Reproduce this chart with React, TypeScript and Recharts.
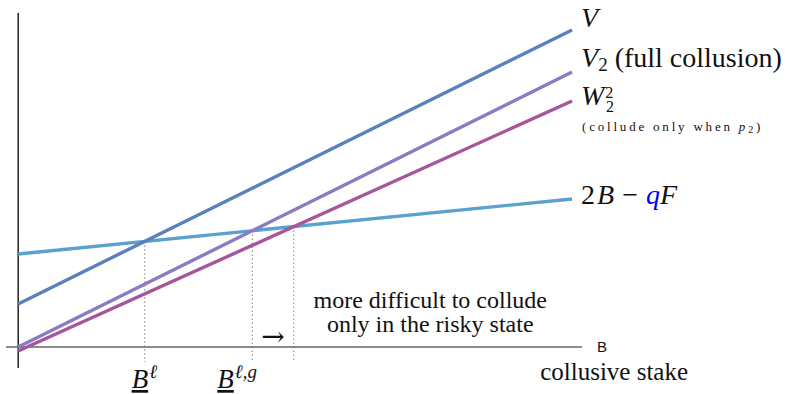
import React from "react";
import { LineChart, Line, XAxis, YAxis, ReferenceLine, ReferenceDot } from "recharts";

// collusive stake B (two ends of each straight line)
const stakes = [0, 10];
const vValues = [4.3, 31.7];
const v2Values = [0, 27.5];
const w22Values = [-0.4, 24.6];
const costValues = [9.3, 14.8];

const tickSups = ["ℓ", "ℓ,g"];
const noteLines = ["more difficult to collude", "only in the risky state"];

const SERIF = '"Liberation Serif", "Times New Roman", serif';
const SANS = '"Liberation Sans", Arial, sans-serif';
const INK = "#111";

const data = stakes.map((b, i) => ({
  b,
  V: vValues[i],
  V2: v2Values[i],
  W22: w22Values[i],
  cost: costValues[i],
}));

// where two straight lines (given by their end values) cross
function cross(a: number[], c: number[]) {
  const sa = (a[1] - a[0]) / (stakes[1] - stakes[0]);
  const sc = (c[1] - c[0]) / (stakes[1] - stakes[0]);
  const x = stakes[0] + (c[0] - a[0]) / (sa - sc);
  return { x, y: a[0] + sa * (x - stakes[0]) };
}

const bL = cross(vValues, costValues);
const bLG = cross(v2Values, costValues);
const bW = cross(w22Values, costValues);
const tickXs = [bL.x, bLG.x];

function endLabel(kind: string) {
  return (props: any) => {
    if (props.index !== stakes.length - 1) return null;
    const x = (props.x ?? props.viewBox?.x) + 9;
    const y = props.y ?? props.viewBox?.y;
    if (kind === "V")
      return (
        <text x={x} y={y - 3} fontFamily={SERIF} fontSize={28} fontStyle="italic" fill={INK}>
          V
        </text>
      );
    if (kind === "V2")
      return (
        <text x={x} y={y - 5} fontFamily={SERIF} fontSize={28} fill={INK}>
          <tspan fontStyle="italic">V</tspan>
          <tspan fontSize={19} dy={4}>2</tspan>
          <tspan dy={-4}> (full collusion)</tspan>
        </text>
      );
    if (kind === "W22")
      return (
        <g>
          <text x={x} y={y + 4} fontFamily={SERIF} fontSize={28} fill={INK}>
            <tspan fontStyle="italic">W</tspan>
            <tspan fontSize={16} dx={1} dy={-7}>2</tspan>
          </text>
          <text x={x + 25} y={y + 11} fontFamily={SERIF} fontSize={16} fill={INK}>
            2
          </text>
          <text x={x + 1} y={y + 30} fontFamily={SERIF} fontSize={13} letterSpacing={2.8} fill={INK}>
            (collude only when <tspan fontStyle="italic">p</tspan>
            <tspan fontSize={10} dy={2}>2</tspan>
            <tspan dy={-2}>)</tspan>
          </text>
        </g>
      );
    return (
      <text x={x} y={y + 5} fontFamily={SERIF} fontSize={28} fill={INK}>
        2<tspan fontStyle="italic" dx={2}>B</tspan>
        <tspan dx={8}>−</tspan>
        <tspan fontStyle="italic" fill="#0000ff" dx={8}>q</tspan>
        <tspan fontStyle="italic">F</tspan>
      </text>
    );
  };
}

function StakeTick(props: any) {
  const { x, y, payload } = props;
  const i = tickXs.findIndex((t) => Math.abs(t - payload.value) < 1e-6);
  const sup = tickSups[i] ?? "";
  const shift = i === 0 ? -13 : -35;
  return (
    <text x={x + shift} y={y + 12} fontFamily={SERIF} fontSize={27} fill={INK}>
      <tspan fontStyle="italic" textDecoration="underline">B</tspan>
      <tspan fontSize={19} fontStyle="italic" dx={1} dy={-10}>{sup}</tspan>
    </text>
  );
}

function textAt(content: React.ReactNode, size: number, family = SERIF) {
  return (p: any) => (
    <text x={p.cx} y={p.cy} textAnchor="middle" fontFamily={family} fontSize={size} fill={INK}>
      {content}
    </text>
  );
}

export default function App() {
  return (
    <div style={{ position: "absolute", left: 0, top: 0, background: "#fff" }}>
      <LineChart width={785} height={394} data={data} margin={{ top: 13, right: 203, bottom: 0, left: 6 }}>
        <XAxis
          type="number"
          dataKey="b"
          domain={[-0.22, 10.18]}
          allowDataOverflow
          ticks={tickXs}
          interval={0}
          tick={<StakeTick />}
          axisLine={false}
          tickLine={false}
          height={26}
        />
        <YAxis hide type="number" domain={[-2.1, 33.4]} allowDataOverflow />
        <ReferenceLine x={0} stroke="#000" strokeWidth={1.3} />
        <ReferenceLine
          y={0}
          stroke="#666"
          strokeWidth={1.5}
          label={{ value: "B", position: "right", offset: 15, fill: INK, fontSize: 15, fontFamily: SANS }}
        />
        {[bL, bLG, bW].map((p, i) => (
          <ReferenceLine
            key={i}
            segment={[{ x: p.x, y: p.y }, { x: p.x, y: -1.5 }]}
            stroke="#666"
            strokeWidth={1.2}
            strokeDasharray="1 3"
          />
        ))}
        <Line dataKey="cost" stroke="#5aa2cd" strokeWidth={3.4} dot={false} isAnimationActive={false} label={endLabel("cost")} />
        <Line dataKey="V" stroke="#5a80bf" strokeWidth={3.4} dot={false} isAnimationActive={false} label={endLabel("V")} />
        <Line dataKey="V2" stroke="#8a7bc3" strokeWidth={3.4} dot={false} isAnimationActive={false} label={endLabel("V2")} />
        <Line dataKey="W22" stroke="#a8569c" strokeWidth={3.4} dot={false} isAnimationActive={false} label={endLabel("W22")} />
        <ReferenceDot x={7.44} y={3.9} r={0} shape={textAt(noteLines[0], 24)} />
        <ReferenceDot x={7.44} y={1.5} r={0} shape={textAt(noteLines[1], 24)} />
        <ReferenceDot x={(bLG.x + bW.x) / 2} y={0.1} r={0} shape={textAt("→", 28, '"DejaVu Serif", serif')} />
        <ReferenceDot x={10.76} y={-3.3} r={0} ifOverflow="visible" shape={textAt("collusive stake", 25)} />
      </LineChart>
    </div>
  );
}
